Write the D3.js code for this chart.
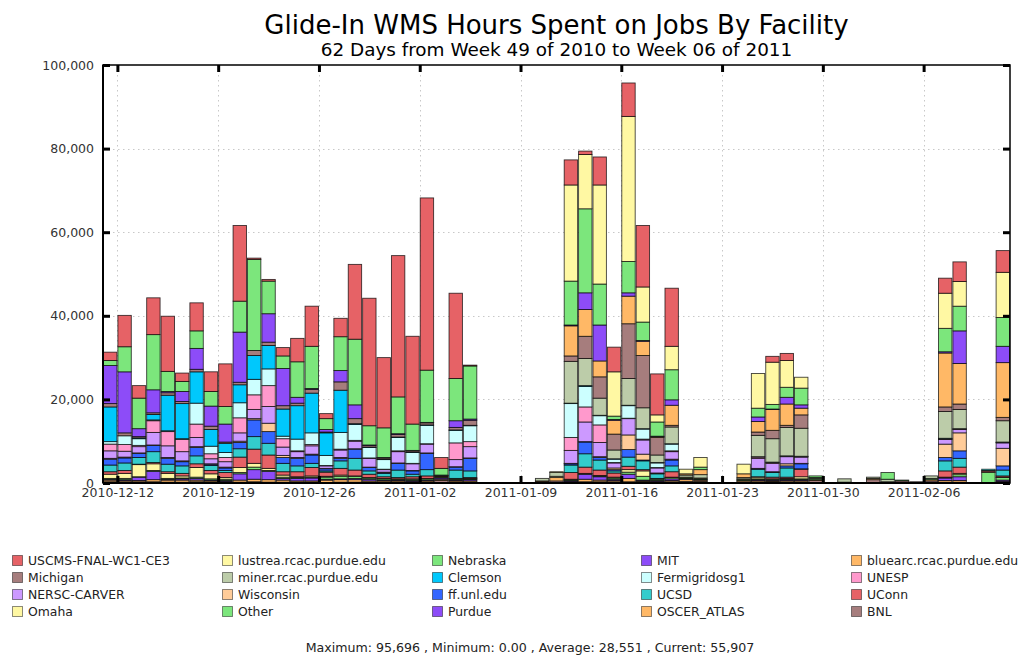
<!DOCTYPE html>
<html><head><meta charset="utf-8">
<script src="https://cdn.jsdelivr.net/npm/d3@7"></script>
<style>
body{margin:0;background:#fff;}
svg{font-family:"DejaVu Sans",sans-serif;}
</style>
</head><body>
<svg id="chart" width="1021" height="655"></svg>
<script>
// ---------- DATA (thousands of hours per day, 2010-12-11 .. 2011-02-12) ----------
const START_DATE = "2010-12-11";
const END_DATE = "2011-02-12";
const UNIT = 1000;
const SERIES = ["USCMS-FNAL-WC1-CE3","lustrea.rcac.purdue.edu","Nebraska","MIT","bluearc.rcac.purdue.edu",
  "Michigan","miner.rcac.purdue.edu","Clemson","Fermigridosg1","UNESP",
  "NERSC-CARVER","Wisconsin","ff.unl.edu","UCSD","UConn",
  "Omaha","Other","Purdue","OSCER_ATLAS","BNL"];
const PALETTE = ["#e66266","#fff8a3","#7ce67c","#8d4cf8","#ffb866","#a67d7d","#bccca9",
  "#00c8fc","#ccffff","#ff99cc","#cc99ff","#ffcc99","#3366ff","#33cccc"];
const X_TICKS = ["2010-12-12","2010-12-19","2010-12-26","2011-01-02","2011-01-09","2011-01-16","2011-01-23","2011-01-30","2011-02-06"];
const Y_TICKS = [0,20000,40000,60000,80000,100000];

const USCMS = [2.0,7.5,3.0,8.8,13.2,2.0,6.7,4.7,10.2,18.1, 0.3,0.4,2.0,5.6,9.6,1.2,4.4,17.9,30.5,16.8,
  33.8,21.0,41.2,2.6,20.4,0.2,0,0,0,0, 0,0,6.0,0.8,6.7,5.9,8.0,14.7,9.8,13.9, 0,0,0,0,0,0,1.4,1.7,0,0,
  0,0,0,0,0,0,0,0,3.6,4.7, 0,0,5.2];
const LUSTREA = [0,0,0,0,0,0,0,0,0,0, 0,0,0,0,0,0,0,0,0,0, 0,0,0,0,0,0,0,0,0,0,
  0,0.2,23.0,13.0,23.7,10.6,34.7,8.4,1.7,5.6, 1.1,2.3,0,0,2.3,8.3,10.1,6.4,2.6,0,
  0,0,0,0,0,0,0,0,8.4,5.9, 0,0,10.8];
const NEBRASKA = [1.2,6.0,7.3,13.2,4.8,2.4,4.2,3.5,4.2,7.4, 21.8,7.8,3.0,8.5,10.1,2.6,8.1,15.7,4.6,7.1,
  8.8,6.3,12.5,1.6,10.1,12.7,0,0,0,0, 0,0,10.5,20.1,9.8,0.8,7.5,4.4,3.4,7.2, 0,0.6,0,0,0,2.1,1.1,2.4,4.0,0.4,
  0,0,0,0,1.6,0,0,0,5.6,5.9, 0,0,6.9];
const MIT = [9.1,14.6,1.9,5.5,0.3,2.4,5.0,4.8,4.3,12.0, 0,6.8,8.9,1.4,0.2,0.6,2.7,3.3,0.1,0.1,
  0.2,0.1,0.1,0,1.6,0.3,0,0,0,0, 0,0,0.2,4.0,8.6,0.2,0.8,0.2,0.1,1.3, 0,0,0,0,0,1.1,0.1,1.6,0.8,0,
  0,0,0,0,0,0,0,0,0.3,7.8, 0,0,3.9];
const BLUEARC = [0,0,0,0,0,0,0,0,0,0, 0,0,0,0,0,0,0,0,0,0, 0,0,0,0,0,0,0,0,0,0,
  0,0,7.2,6.4,3.8,3.3,6.6,3.4,0.2,4.8, 0.3,1.2,0,0,0.9,2.5,5.0,5.1,1.6,0,
  0,0,0,0,0,0,0,0,12.9,9.7, 0,0,13.1];
const MICHIGAN = [0.8,0.7,0.3,0.4,0.6,0.5,0.6,0.8,0.3,0.6, 1.2,0.8,0.8,0.6,0.9,0.2,2.0,1.2,0.4,0.3,
  0.6,0.3,0.5,0,0.6,1.2,0,0,0,0, 0,0,1.3,5.3,5.1,3.8,13.1,12.5,4.2,0.4, 0,0,0,0,0,0.8,2.0,0.5,3.2,0,
  0,0,0,0,0,0,0,0,1.1,1.3, 0,0,0.8];
const MINER = [0,0,0,0,0,0,0,0,0,0, 0,0,0,0,0,0,0,0,0,0, 0,0,0,0,0,0,0,0,0,0,
  0.6,0.9,10.0,6.5,4.1,2.1,6.4,5.0,1.8,4.0, 0.5,0.8,0,0,0.3,5.1,5.6,6.8,6.7,0.2,
  0,0.8,0,0.3,0.6,0,0,0.6,6.4,4.6, 0,0,5.1];
const CLEMSON = [8.3,0,0.2,1.3,8.5,8.4,7.5,4.0,2.2,4.3, 5.7,5.6,6.5,8.0,9.5,5.4,10.1,0.2,0.1,0.1,
  0.1,0.1,0.1,0,0.1,0.1,0,0,0,0, 0,0,0.1,0.2,0.1,0.1,0.1,0.1,0.1,0.1, 0,0,0,0,0,0,0,0,0,0,
  0,0,0,0,0,0,0,0,0.1,0, 0,0,0];
const FERMIGRID = [0.6,2.1,1.6,0.2,0.2,0.2,5.0,1.8,1.2,3.6, 3.7,4.0,0.6,2.8,2.8,2.4,4.0,3.8,2.5,2.3,
  3.2,2.6,4.4,0.1,3.0,3.8,0,0,0,0, 0,0,8.1,4.9,2.2,0.8,3.0,2.4,1.1,1.6, 0,0,0,0,0,0.1,0.1,0.1,0.1,0,
  0,0,0,0,0,0,0,0,0.1,0.1, 0,0,0.1];
const UNESP = [1.6,1.6,0.3,2.8,3.4,2.9,3.2,1.2,1.0,3.6, 3.5,5.0,2.0,0.2,0.3,0.1,0.2,0.2,0.1,0.1,
  0.2,0.1,0.1,0,4.0,1.2,0,0,0,0, 0,0,3.1,3.6,4.2,0.1,0.1,0.2,0.1,0.2, 0,0,0,0,0,0.3,0.2,0.1,0.1,0,
  0,0,0,0,0,0,0,0,0.1,0.1, 0,0,0.1];
const NERSC = [1.8,1.4,1.5,3.0,2.8,2.2,2.2,1.2,1.3,2.0, 2.2,4.0,2.0,1.4,2.0,0.6,1.8,1.8,2.1,0.6,
  2.7,1.6,2.1,0,1.7,2.7,0,0,0,0, 0,0,3.1,4.7,3.4,1.2,3.9,3.4,1.2,1.8, 0,0,0,0,0,2.4,2.0,1.7,1.5,0,
  0,0,0,0,0,0,0,0,1.1,0.8, 0,0,1.3];
const WISCONSIN = [0.2,0.2,0.1,0.1,0.2,0.2,0.2,0.1,0.2,0.3, 0.3,2.0,0.5,0.2,0.2,0.1,0.2,0.1,0.1,0.1,
  0.1,0.1,0.1,0,0.1,0.1,0,0,0,0, 0,0,0.1,0.1,0.2,0.4,3.5,1.4,0.1,0.2, 0,0,0,0,0,0.1,0.1,0.5,0.1,0,
  0,0,0,0,0,0,0,0,3.2,4.3, 0,0,4.2];
const FFUNL = [1.4,1.2,1.0,1.5,1.4,1.0,2.0,0.3,0.6,1.5, 4.0,2.8,1.4,1.8,2.0,0.5,0.6,2.2,0.8,0.2,
  1.6,0.8,3.9,0,0.7,3.0,0,0,0,0, 0,0,0.3,2.8,0.6,0.3,1.8,0.2,0.1,1.4, 0,0,0,0,0,0.1,0.1,0.5,1.2,0,
  0,0,0,0,0,0,0,0,0.8,1.8, 0,0,1.0];
const UCSD = [1.6,1.8,1.6,2.6,1.8,1.8,1.9,1.2,0.5,2.0, 3.0,2.8,2.0,1.4,1.0,0.3,1.8,2.8,0.8,0.8,
  1.8,0.6,1.5,0.1,2.0,1.6,0,0,0,0, 0,0,1.8,3.2,2.4,0.5,2.2,2.1,1.1,1.4, 0,0,0,0,0,1.8,1.1,2.2,0.1,0,
  0,0,0,0,0,0,0,0,2.4,2.1, 0,0.3,1.4];
const UCONN = [0.6,0.7,0.1,0.3,0.4,0.6,0.9,0.8,1.2,2.5, 3.4,3.2,0.8,1.2,2.0,1.0,1.6,1.4,0.8,0.4,
  0.3,0.5,0.6,0.2,0.1,0.2,0,0,0,0, 0,0,1.6,1.5,1.3,1.0,0.8,0.3,0.1,1.3, 0,0,0,0,0,0.1,0.4,0.3,1.8,0,
  0,0,0,0,0,0,0,0,1.5,1.5, 0,0.3,0.3];
const OMAHA = [1.0,1.2,2.9,1.6,1.2,0.5,2.3,1.2,0.4,1.2, 0.9,0.5,0.5,0.2,0.3,0.2,0.3,0.1,0.1,0.1,
  0.1,0.1,0.1,0.1,0.1,0.1,0,0,0,0, 0,0.3,0.1,0.1,0.1,0.2,0.6,1.3,0.1,0.1, 0.2,0.2,0,0,0.2,0.4,0.1,0.1,0.5,0,
  0,0,0,0,0,0,0,0,0.1,0.3, 0,0.2,0.1];
const OTHER = [0.2,0.3,0.1,0.2,0.2,0.2,0.3,0.3,0.3,0.3, 0.6,0.2,0.3,0.2,0.2,0.5,0.6,0.5,0.3,0.3,
  0.2,0.3,0.3,0.2,0.2,0.2,0,0,0,0, 0,0,0.2,0.1,0.2,0.3,0.5,0.9,0.3,0.3, 0.2,0.2,0,0,0.2,0.2,0.2,0.2,0.2,0.3,
  0,0,0,0,0,0.2,0,0.3,0.1,0.5, 0,2.5,0.6];
const PURDUE = [0.2,0.2,0.8,2.0,0.2,0.3,0.4,0.2,0.2,1.5, 2.3,2.0,0.4,0.6,0.7,0.2,0.2,0.3,0.4,0.2,
  0.2,0.2,0.2,0.3,0.2,0.3,0,0,0,0, 0,0,0.2,1.2,0.8,0.3,1.0,0.2,0.2,0.4, 0.1,0.1,0,0,0,0.2,0.2,0.2,0.2,0,
  0,0,0,0,0,0,0,0,0.6,0.9, 0,0,0.3];
const OSCER = [0.4,0.3,0.3,0.5,0.5,0.5,0.4,0.3,0.2,0.5, 0.6,0.6,0.5,0.3,0.3,0.6,0.6,0.6,0.3,0.3,
  0.3,0.2,0.3,0.3,0.3,0.3,0,0,0,0, 0.2,0.8,0.1,0.6,0.4,0.3,0.8,0.2,0.2,0.3, 0.5,0.3,0,0,0.3,0.3,0.2,0.3,0.3,0.2,
  0,0,0,0.3,0,0,0,0.3,0.4,0.4, 0,0,0.2];
const BNL = [0.3,0.3,0.3,0.3,0.2,0.2,0.3,0.2,0.2,0.2, 0.3,0.2,0.2,0.2,0.2,0.1,0.2,0.2,0.2,0.2,
  0.2,0.2,0.2,0.6,0.2,0.2,0,0,0,0, 0.3,0.5,0.3,0.3,0.3,0.3,0.3,0.3,0.2,0.3, 0.4,0.4,0,0,0.3,0.3,0.3,0.3,0.3,0.6,
  0,0.2,0,0.8,0.3,0.5,0.3,0.5,0.2,0.2, 0,0,0.2];

const VALUES = [USCMS,LUSTREA,NEBRASKA,MIT,BLUEARC,MICHIGAN,MINER,CLEMSON,FERMIGRID,UNESP,
  NERSC,WISCONSIN,FFUNL,UCSD,UCONN,OMAHA,OTHER,PURDUE,OSCER,BNL];

// ---------- BUILD ----------
const parse = d3.utcParse("%Y-%m-%d");
const start = parse(START_DATE);
const nDays = USCMS.length;
const rows = d3.range(nDays).map(i => {
  const r = {date: d3.utcDay.offset(start, i)};
  SERIES.forEach((s, k) => r[s] = VALUES[k][i] * UNIT);
  return r;
});
const colorOf = s => PALETTE[SERIES.indexOf(s) % PALETTE.length];

const svg = d3.select("#chart");
const L = 103, R = 1010, T = 65, B = 483;
const x = d3.scaleUtc().domain([start, parse(END_DATE)]).range([L, R]);
const y = d3.scaleLinear().domain([0, 100000]).range([B, T]);

// title
svg.append("text").attr("x", (L+R)/2).attr("y", 34).attr("text-anchor","middle")
  .attr("font-size", 26).attr("fill","#000").text("Glide-In WMS Hours Spent on Jobs By Facility");
svg.append("text").attr("x", (L+R)/2).attr("y", 56).attr("text-anchor","middle")
  .attr("font-size", 18.4).attr("fill","#000").text("62 Days from Week 49 of 2010 to Week 06 of 2011");

// grid
const xt = X_TICKS.map(parse);
const grid = svg.append("g").attr("stroke","#c8c8c8").attr("stroke-width",1).attr("stroke-dasharray","1.5,3.5");
grid.selectAll(".gx").data(xt).join("line").attr("x1", d=>Math.round(x(d))+0.5).attr("x2", d=>Math.round(x(d))+0.5)
  .attr("y1", T).attr("y2", B);
grid.selectAll(".gy").data(Y_TICKS.slice(1,-1)).join("line").attr("x1", L).attr("x2", R)
  .attr("y1", d=>Math.round(y(d))+0.5).attr("y2", d=>Math.round(y(d))+0.5);

// stacked bars
const stack = d3.stack().keys(SERIES.slice().reverse());
const layers = stack(rows);
const gb = svg.append("g");
layers.forEach(layer => {
  const c = colorOf(layer.key);
  gb.append("g").selectAll("rect").data(layer.filter(d => d[1] - d[0] > 0)).join("rect")
    .attr("x", d => x(d.data.date) + 0.5)
    .attr("width", d => x(d3.utcDay.offset(d.data.date, 1)) - x(d.data.date) - 1)
    .attr("y", d => y(d[1]))
    .attr("height", d => Math.max(0.1, y(d[0]) - y(d[1])))
    .attr("fill", c).attr("stroke", "rgba(0,0,0,0.75)").attr("stroke-width", 0.9);
});

// frame
svg.append("rect").attr("x", L).attr("y", T).attr("width", R-L).attr("height", B-T)
  .attr("fill","none").attr("stroke","#000").attr("stroke-width",1.5);
svg.append("line").attr("x1",L).attr("x2",L).attr("y1",T).attr("y2",B).attr("stroke","#000").attr("stroke-width",2);
svg.append("line").attr("x1",L).attr("x2",R).attr("y1",B).attr("y2",B).attr("stroke","#000").attr("stroke-width",2);

// axes
const yAxis = svg.append("g").attr("transform",`translate(${L},0)`)
  .call(d3.axisLeft(y).tickValues(Y_TICKS).tickFormat(d3.format(",")).tickSize(-7).tickPadding(9));
const yAxisR = svg.append("g").attr("transform",`translate(${R},0)`)
  .call(d3.axisRight(y).tickValues(Y_TICKS).tickFormat("").tickSize(-7));
const xAxis = svg.append("g").attr("transform",`translate(0,${B})`)
  .call(d3.axisBottom(x).tickValues(xt).tickFormat(d3.utcFormat("%Y-%m-%d")).tickSize(-7).tickPadding(5));
const xAxisT = svg.append("g").attr("transform",`translate(0,${T})`)
  .call(d3.axisTop(x).tickValues(xt).tickFormat("").tickSize(-7));
[yAxis,yAxisR,xAxis,xAxisT].forEach(g => {
  g.select(".domain").remove();
  g.selectAll(".tick line").attr("stroke","#000").attr("stroke-width",3);
  g.selectAll("text").attr("font-family","DejaVu Sans").attr("font-size",12.5).attr("fill","#333");
});

// legend
const LEG_X = [12, 222, 432, 641, 851];
const LEG_Y = [561, 578, 595, 612];
const leg = svg.append("g");
SERIES.forEach((s, i) => {
  const col = i % 5, row = Math.floor(i / 5);
  const g = leg.append("g").attr("transform", `translate(${LEG_X[col]},${LEG_Y[row]})`);
  g.append("rect").attr("x", 0.5).attr("y", -5.5).attr("width", 10).attr("height", 10)
    .attr("fill", colorOf(s)).attr("stroke","rgba(0,0,0,0.45)").attr("stroke-width",1);
  g.append("text").attr("x", 16).attr("y", 0).attr("dy","0.35em").attr("font-size", 12.4)
    .attr("fill","#222").text(s);
});

// footer
svg.append("text").attr("x", 530).attr("y", 652).attr("text-anchor","middle").attr("font-size", 12.6)
  .attr("fill","#222").text("Maximum: 95,696 , Minimum: 0.00 , Average: 28,551 , Current: 55,907");
</script>
</body></html>
